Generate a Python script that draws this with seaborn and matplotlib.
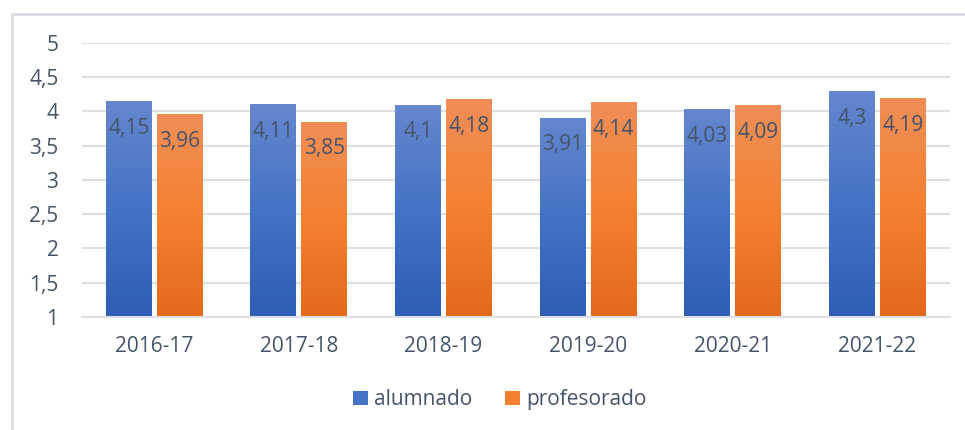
import matplotlib.pyplot as plt
import numpy as np
import pandas as pd
import seaborn as sns
from matplotlib.colors import LinearSegmentedColormap
from matplotlib.patches import Patch, Rectangle

# datos
cursos = ['2016-17', '2017-18', '2018-19', '2019-20', '2020-21', '2021-22']
alumnado = [4.15, 4.11, 4.1, 3.91, 4.03, 4.3]
profesorado = [3.96, 3.85, 4.18, 4.14, 4.09, 4.19]
series = ['alumnado', 'profesorado']
y_ticks = [1, 1.5, 2, 2.5, 3, 3.5, 4, 4.5, 5]

df = pd.DataFrame({
    'curso': cursos * 2,
    'grupo': ['alumnado'] * len(cursos) + ['profesorado'] * len(cursos),
    'valor': alumnado + profesorado,
})

texto = '#44546A'
rejilla = '#DCE0E5'
colores = {'alumnado': '#4472C4', 'profesorado': '#F4812F'}
degradados = {
    'alumnado': ['#2E5DB6', '#4472C4', '#6587CE'],
    'profesorado': ['#E3691A', '#F4812F', '#F08E58'],
}

sns.set_style('white')
plt.rcParams['font.family'] = ['Open Sans', 'DejaVu Sans']

fig = plt.figure(figsize=(9.65, 4.3), dpi=100)
ax = fig.add_axes([0.085, 0.263, 0.899, 0.637])

sns.barplot(data=df, x='curso', y='valor', hue='grupo', order=cursos, hue_order=series,
            palette=colores, width=0.705, gap=0.1, ax=ax,
            legend=False, errorbar=None, saturation=1)

ymin = 1
# degradado vertical en cada barra
for cont, grupo in zip(ax.containers, series):
    cmap = LinearSegmentedColormap.from_list(grupo, degradados[grupo])
    grad = np.linspace(0, 1, 256).reshape(-1, 1)
    for bar in cont:
        x0 = bar.get_x()
        w = bar.get_width()
        h = bar.get_height()
        bar.set_facecolor('none')
        bar.set_edgecolor('none')
        im = ax.imshow(grad, cmap=cmap, origin='lower', aspect='auto',
                       extent=(x0, x0 + w, ymin, h), zorder=2)
        im.set_clip_path(bar)
        lab = f'{h:g}'.replace('.', ',')
        ax.annotate(lab, (x0 + w / 2, h), xytext=(0, -12), textcoords='offset points',
                    ha='center', va='top', fontsize=15, color=texto, zorder=3)

ax.set_xlim(-0.5, len(cursos) - 0.5)
ax.set_ylim(ymin, 5)
ax.set_yticks(y_ticks)
ax.set_yticklabels([f'{t:g}'.replace('.', ',') for t in y_ticks])
ax.yaxis.grid(True, color=rejilla, linewidth=1.5)
ax.set_axisbelow(True)
for s in ['top', 'right', 'left']:
    ax.spines[s].set_visible(False)
ax.spines['bottom'].set_color(rejilla)
ax.spines['bottom'].set_linewidth(1.5)
ax.tick_params(axis='both', length=0, labelsize=15, colors=texto)
ax.tick_params(axis='x', pad=14)
ax.tick_params(axis='y', pad=17)
ax.set_xlabel('')
ax.set_ylabel('')

handles = [Patch(facecolor=colores[g], edgecolor='none') for g in series]
fig.legend(handles, series, loc='center', bbox_to_anchor=(0.518, 0.07), ncol=2,
           frameon=False, fontsize=15, labelcolor=texto, handlelength=0.7,
           handleheight=0.7, handletextpad=0.3, columnspacing=1.6)

# marco del gráfico
fig.patches.append(Rectangle((12 / 965, -0.05), 1.0, 1 - 14 / 430 + 0.05,
                             transform=fig.transFigure, fill=False,
                             edgecolor='#D9DDE2', linewidth=2))

fig.savefig('out.png', dpi=100)
